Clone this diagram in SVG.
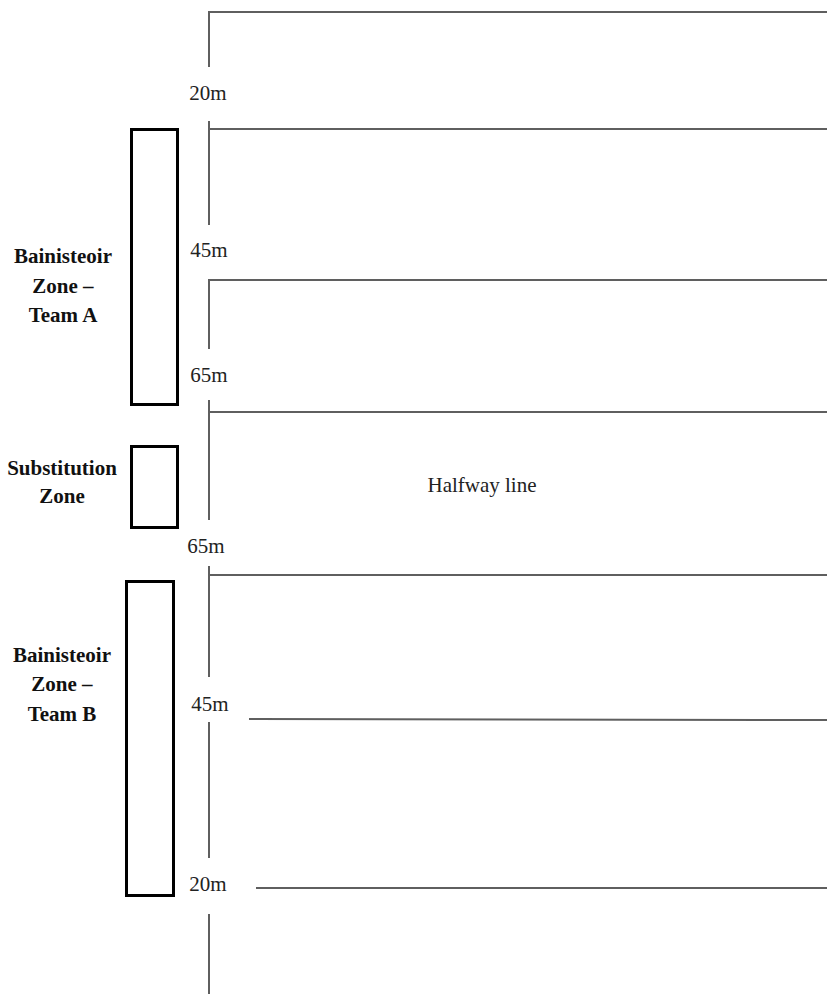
<svg xmlns="http://www.w3.org/2000/svg" width="827" height="994" viewBox="0 0 827 994">
<style>
.ln{stroke:#5f5f5f;stroke-width:2;fill:none}
.zone{fill:#fff;stroke:#000;stroke-width:3}
.lbl{font-family:"Liberation Serif","Times New Roman",serif;font-size:21px;fill:#222;text-anchor:middle}
.zl{font-family:"Liberation Serif","Times New Roman",serif;font-size:21px;font-weight:bold;fill:#111;text-anchor:middle}
</style>
<rect width="827" height="994" fill="#fff"/>
<g id="pitch-lines">
<path class="ln" d="M209,12 V67 M209,121 V225 M209,279 V349 M209,400 V520 M209,566 V677 M209,722 V858 M209,914 V994"/>
<path class="ln" d="M208,12 H827 M208,129 H827 M208,280 H827 M208,412 H827 M208,575 H827 M249,719 L827,720 M256,888 H827"/>
</g>
<g id="distance-labels">
<text class="lbl" x="208" y="100">20m</text>
<text class="lbl" x="209" y="257">45m</text>
<text class="lbl" x="209" y="382">65m</text>
<text class="lbl" x="206" y="553">65m</text>
<text class="lbl" x="210" y="711">45m</text>
<text class="lbl" x="208" y="891">20m</text>
</g>
<g id="halfway"><text class="lbl" x="482" y="492">Halfway line</text></g>
<g id="zone-a">
<rect class="zone" x="131.5" y="129.5" width="46" height="275"/>
<text class="zl" x="63" y="263">Bainisteoir</text>
<text class="zl" x="63" y="293">Zone –</text>
<text class="zl" x="63" y="322">Team A</text>
</g>
<g id="zone-sub">
<rect class="zone" x="131.5" y="446.5" width="46" height="81"/>
<text class="zl" x="62" y="475">Substitution</text>
<text class="zl" x="62" y="503">Zone</text>
</g>
<g id="zone-b">
<rect class="zone" x="126.5" y="581.5" width="47" height="314"/>
<text class="zl" x="62" y="662">Bainisteoir</text>
<text class="zl" x="62" y="691">Zone –</text>
<text class="zl" x="62" y="721">Team B</text>
</g>
</svg>
